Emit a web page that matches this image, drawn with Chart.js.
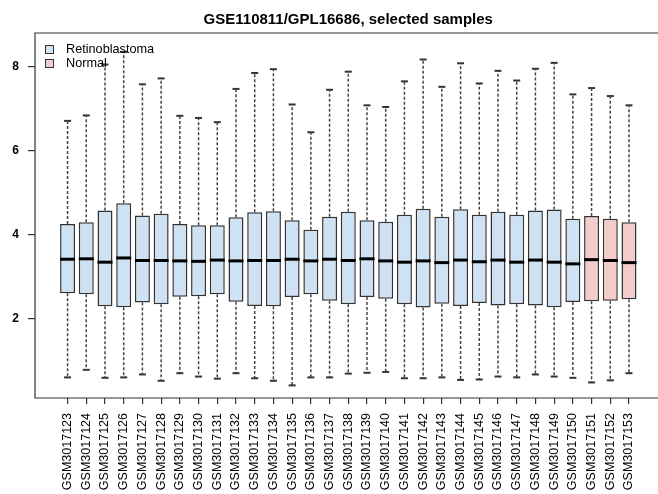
<!DOCTYPE html>
<html>
<head>
<meta charset="utf-8">
<script src="https://cdn.jsdelivr.net/npm/chart.js@4/dist/chart.umd.min.js"></script>
<style>
  html, body { margin: 0; padding: 0; background: #fff; overflow: hidden; }
</style>
</head>
<body>
<canvas id="chart" width="658" height="494"></canvas>
<script>
// sample names along the x axis
var samples = ['GSM3017123', 'GSM3017124', 'GSM3017125', 'GSM3017126', 'GSM3017127', 'GSM3017128',
    'GSM3017129', 'GSM3017130', 'GSM3017131', 'GSM3017132', 'GSM3017133', 'GSM3017134',
    'GSM3017135', 'GSM3017136', 'GSM3017137', 'GSM3017138', 'GSM3017139', 'GSM3017140',
    'GSM3017141', 'GSM3017142', 'GSM3017143', 'GSM3017144', 'GSM3017145', 'GSM3017146',
    'GSM3017147', 'GSM3017148', 'GSM3017149', 'GSM3017150', 'GSM3017151', 'GSM3017152',
    'GSM3017153'];
var groups = ['Retinoblastoma', 'Retinoblastoma', 'Retinoblastoma', 'Retinoblastoma', 'Retinoblastoma',
    'Retinoblastoma', 'Retinoblastoma', 'Retinoblastoma', 'Retinoblastoma', 'Retinoblastoma',
    'Retinoblastoma', 'Retinoblastoma', 'Retinoblastoma', 'Retinoblastoma', 'Retinoblastoma',
    'Retinoblastoma', 'Retinoblastoma', 'Retinoblastoma', 'Retinoblastoma', 'Retinoblastoma',
    'Retinoblastoma', 'Retinoblastoma', 'Retinoblastoma', 'Retinoblastoma', 'Retinoblastoma',
    'Retinoblastoma', 'Retinoblastoma', 'Retinoblastoma', 'Normal', 'Normal', 'Normal'];

// box plot statistics
var whiskerHigh = [6.71, 6.84, 8.05, 8.35, 7.58, 7.72, 6.83, 6.78, 6.68, 7.47, 7.85, 7.94, 7.10, 6.44, 7.45,
    7.88, 7.08, 7.04, 7.65, 8.17, 7.52, 8.08, 7.60, 7.90, 7.67, 7.95, 8.09, 7.34, 7.49, 7.30, 7.08];
var upperQuartile = [4.26, 4.30, 4.58, 4.75, 4.46, 4.50, 4.26, 4.23, 4.23, 4.42, 4.54, 4.56, 4.35, 4.12, 4.43,
    4.55, 4.35, 4.31, 4.48, 4.62, 4.43, 4.61, 4.48, 4.55, 4.48, 4.58, 4.60, 4.38, 4.45, 4.38, 4.30];
var medians = [3.42, 3.43, 3.35, 3.45, 3.39, 3.39, 3.38, 3.37, 3.40, 3.38, 3.39, 3.39, 3.42, 3.38, 3.42,
    3.39, 3.43, 3.38, 3.35, 3.38, 3.34, 3.40, 3.36, 3.40, 3.35, 3.40, 3.35, 3.31, 3.41, 3.39, 3.34];
var lowerQuartile = [2.61, 2.59, 2.30, 2.28, 2.39, 2.35, 2.53, 2.54, 2.59, 2.41, 2.31, 2.30, 2.52, 2.59, 2.43,
    2.35, 2.52, 2.48, 2.35, 2.27, 2.36, 2.31, 2.38, 2.32, 2.35, 2.32, 2.28, 2.40, 2.42, 2.43, 2.47];
var whiskerLow = [0.61, 0.79, 0.60, 0.61, 0.68, 0.53, 0.71, 0.63, 0.58, 0.71, 0.59, 0.53, 0.42, 0.61, 0.61,
    0.70, 0.72, 0.74, 0.59, 0.59, 0.61, 0.55, 0.56, 0.63, 0.61, 0.68, 0.63, 0.60, 0.49, 0.54, 0.71];
var yTicks = [2, 4, 6, 8];

var chartTitle = 'GSE110811/GPL16686, selected samples';
var groupColors = { Retinoblastoma: '#cfe2f3', Normal: '#f4cccc' };
var legendGroups = ['Retinoblastoma', 'Normal'];

Chart.defaults.font.family = '"Liberation Sans", Arial, Helvetica, sans-serif';
Chart.defaults.color = '#000';

// whiskers: one dashed segment above and one below each box, separated by gaps
var whiskerData = [];
samples.forEach(function (s, i) {
    whiskerData.push({ x: i + 1, y: upperQuartile[i] }, { x: i + 1, y: whiskerHigh[i] }, { x: i + 1, y: null });
    whiskerData.push({ x: i + 1, y: lowerQuartile[i] }, { x: i + 1, y: whiskerLow[i] }, { x: i + 1, y: null });
});
var capData = [];
samples.forEach(function (s, i) {
    capData.push({ x: i + 1, y: whiskerHigh[i] }, { x: i + 1, y: whiskerLow[i] });
});

// frame, title and legend drawn the way base R does it
var rStyle = {
    id: 'rStyle',
    beforeDatasetsDraw: function (chart) {
        var ctx = chart.ctx, a = chart.chartArea;
        ctx.save();
        ctx.strokeStyle = '#333';
        ctx.lineWidth = 1.2;
        ctx.beginPath();
        ctx.moveTo(a.right + 10, a.top);
        ctx.lineTo(a.left, a.top);
        ctx.lineTo(a.left, a.bottom);
        ctx.lineTo(a.right + 10, a.bottom);
        ctx.stroke();
        ctx.restore();
    },
    afterDraw: function (chart) {
        var ctx = chart.ctx;
        ctx.save();
        ctx.fillStyle = '#000';
        ctx.font = 'bold 15px "Liberation Sans", Arial, sans-serif';
        ctx.textAlign = 'center';
        ctx.textBaseline = 'alphabetic';
        ctx.fillText(chartTitle, chart.scales.x.getPixelForValue(16), 24);

        ctx.font = '12.7px "Liberation Sans", Arial, sans-serif';
        ctx.textAlign = 'left';
        ctx.textBaseline = 'middle';
        legendGroups.forEach(function (g, k) {
            var cy = 49.5 + k * 14;
            ctx.fillStyle = groupColors[g];
            ctx.fillRect(45.5, cy - 4, 8, 8);
            ctx.strokeStyle = '#333';
            ctx.lineWidth = 1;
            ctx.strokeRect(45.5, cy - 4, 8, 8);
            ctx.fillStyle = '#000';
            ctx.fillText(g, 66, cy);
        });
        ctx.restore();
    }
};

var ctx = document.getElementById('chart').getContext('2d');
var myChart = new Chart(ctx, {
    type: 'bar',
    data: {
        datasets: [
            {
                type: 'scatter',
                label: 'Median',
                data: medians.map(function (m, i) { return { x: i + 1, y: m }; }),
                pointStyle: 'line',
                pointRadius: 7.5,
                borderColor: '#000',
                borderWidth: 3,
                order: 0
            },
            {
                label: 'Box',
                data: samples.map(function (s, i) { return { x: i + 1, y: [lowerQuartile[i], upperQuartile[i]] }; }),
                backgroundColor: groups.map(function (g) { return groupColors[g]; }),
                borderColor: '#333',
                borderWidth: 1.5,
                borderSkipped: false,
                barPercentage: 0.8,
                categoryPercentage: 1,
                order: 1
            },
            {
                type: 'line',
                label: 'Whiskers',
                data: whiskerData,
                borderColor: '#444',
                borderWidth: 1.5,
                borderDash: [3, 2],
                pointRadius: 0,
                spanGaps: false,
                order: 2
            },
            {
                type: 'scatter',
                label: 'Caps',
                data: capData,
                pointStyle: 'line',
                pointRadius: 3.5,
                borderColor: '#333',
                borderWidth: 2,
                order: 2
            }
        ]
    },
    options: {
        responsive: false,
        animation: false,
        events: [],
        layout: { autoPadding: false, padding: { top: 33, right: 0, left: 0, bottom: 0 } },
        scales: {
            x: {
                type: 'linear',
                offset: false,
                min: -0.74,
                max: 32.55,
                afterBuildTicks: function (scale) {
                    scale.ticks = samples.map(function (s, i) { return { value: i + 1 }; });
                },
                afterFit: function (scale) {
                    scale.height = 96;
                    scale.paddingLeft = 0;
                    scale.paddingRight = 0;
                },
                ticks: {
                    callback: function (v) { return samples[v - 1]; },
                    minRotation: 90,
                    maxRotation: 90,
                    autoSkip: false,
                    padding: 9,
                    font: { size: 12.5 },
                    color: '#000'
                },
                grid: { offset: false, drawOnChartArea: false, drawTicks: true, tickLength: 6, color: '#333', lineWidth: 1.2 },
                border: { display: false }
            },
            y: {
                type: 'linear',
                min: 0.12,
                max: 8.8,
                afterBuildTicks: function (scale) {
                    scale.ticks = yTicks.map(function (v) { return { value: v }; });
                },
                afterFit: function (scale) { scale.width = 35; },
                ticks: { padding: 9, font: { size: 12, weight: 'bold' }, color: '#000' },
                grid: { drawOnChartArea: false, drawTicks: true, tickLength: 7, color: '#333', lineWidth: 1.2 },
                border: { display: false }
            }
        },
        plugins: {
            legend: { display: false },
            title: { display: false },
            tooltip: { enabled: false }
        }
    },
    plugins: [rStyle]
});
</script>
</body>
</html>
